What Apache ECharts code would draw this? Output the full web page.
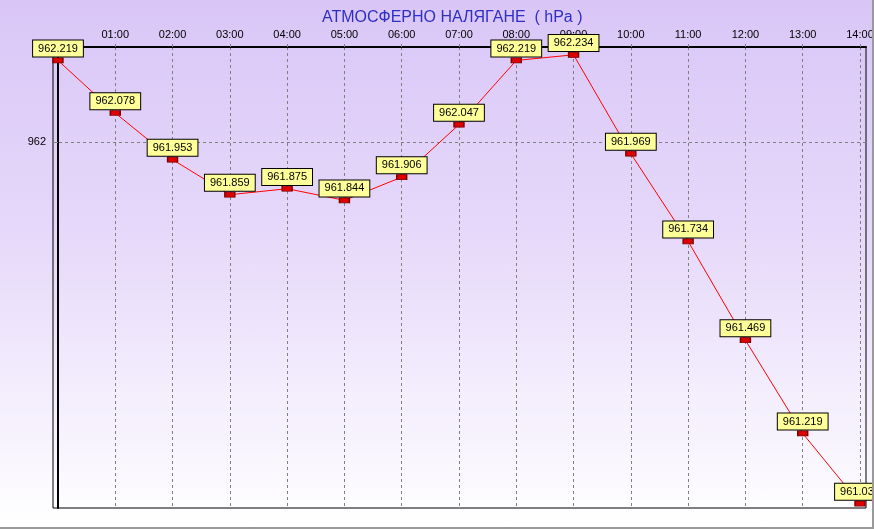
<!DOCTYPE html>
<html>
<head>
<meta charset="utf-8">
<script src="https://cdn.jsdelivr.net/npm/echarts@6/dist/echarts.min.js"></script>
<style>
  html, body { margin: 0; padding: 0; background: #ffffff; }
  #chart {
    width: 872px;
    height: 527px;
    border-right: 2px solid #9a9a9a;
    border-bottom: 2px solid #9a9a9a;
    background: linear-gradient(to bottom, #d9c6f7 0%, #e6d9fa 45%, #ffffff 100%);
  }
</style>
</head>
<body>
<div id="chart"></div>
<script>
// hours 00:00 .. 14:00
const hours = [0, 1, 2, 3, 4, 5, 6, 7, 8, 9, 10, 11, 12, 13, 14];
const pressure = [962.219, 962.078, 961.953, 961.859, 961.875, 961.844, 961.906, 962.047,
                  962.219, 962.234, 961.969, 961.734, 961.469, 961.219, 961.031];
const hourLabels = [1, 2, 3, 4, 5, 6, 7, 8, 9, 10, 11, 12, 13, 14];
const yTicks = [962];

const chart = echarts.init(document.getElementById('chart'));

const font = 'Arial, "Liberation Sans", sans-serif';
const gridLine = { color: '#808080', type: [3, 3], width: 1 };

chart.setOption({
  animation: false,
  title: {
    text: 'АТМОСФЕРНО НАЛЯГАНЕ  ( hPa )',
    left: 317,
    top: 5,
    textStyle: { color: '#2f2fc4', fontSize: 16, fontWeight: 'normal', fontFamily: font }
  },
  grid: {
    left: 53, right: 6, top: 47, bottom: 19,
    outerBoundsMode: 'none',
    containLabel: false,
    show: true, borderColor: '#000', borderWidth: 1, backgroundColor: 'transparent'
  },
  xAxis: {
    type: 'value',
    position: 'top',
    min: -0.087,
    max: 14.105,
    axisLine: { lineStyle: { color: '#000', width: 2 } },
    axisTick: { show: true, customValues: hours, length: 5, lineStyle: gridLine },
    axisLabel: {
      customValues: hourLabels,
      margin: 7,
      color: '#000',
      fontSize: 11,
      fontFamily: font,
      formatter: v => String(Math.round(v)).padStart(2, '0') + ':00'
    },
    splitLine: { show: true, lineStyle: gridLine }
  },
  yAxis: {
    type: 'value',
    min: 961.019,
    max: 962.255,
    axisLine: { show: true, lineStyle: { color: '#000', width: 2 } },
    axisTick: { show: true, customValues: yTicks, length: 5, lineStyle: gridLine },
    axisLabel: {
      customValues: yTicks,
      margin: 7,
      color: '#000',
      fontSize: 11,
      fontFamily: font,
      formatter: v => String(Math.round(v))
    },
    splitLine: { show: true, lineStyle: gridLine }
  },
  series: [{
    type: 'line',
    data: hours.map((h, i) => [h, pressure[i]]),
    lineStyle: { color: '#ff0000', width: 1 },
    symbol: 'rect',
    symbolSize: [10, 5],
    itemStyle: { color: '#dd0000', borderColor: '#7a0000', borderWidth: 1 },
    label: {
      show: true,
      position: 'top',
      distance: 1,
      formatter: p => p.value[1].toFixed(3),
      color: '#000',
      fontSize: 11,
      fontFamily: font,
      backgroundColor: '#ffff99',
      borderColor: '#000',
      borderWidth: 1,
      padding: [2, 5, 2, 5],
      lineHeight: 12
    },
    labelLayout: { hideOverlap: false },
    z: 3
  }]
});
</script>
</body>
</html>
